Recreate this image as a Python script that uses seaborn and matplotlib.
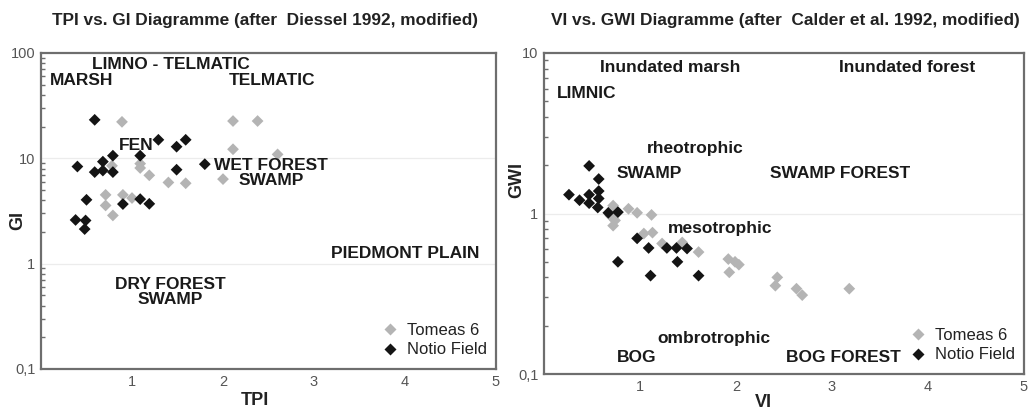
import numpy as np
import pandas as pd
import matplotlib
matplotlib.use("Agg")
import matplotlib.pyplot as plt
from matplotlib.ticker import FixedLocator, LogLocator, NullFormatter
import seaborn as sns

# ---------------- data ----------------
series_names = ["Tomeas 6", "Notio Field"]

# Left diagram: TPI vs GI
tpi_tomeas = [0.89, 2.11, 2.38, 2.11, 0.78, 1.09, 1.09, 1.19, 1.40, 1.59, 2.00, 0.71, 0.90, 0.71, 1.00, 0.79, 2.60]
gi_tomeas = [22.2, 22.6, 22.6, 12.2, 8.5, 8.9, 8.1, 6.9, 5.9, 5.8, 6.35, 4.5, 4.5, 3.57, 4.2, 2.87, 10.9]
tpi_notio = [0.59, 0.40, 0.68, 0.79, 0.59, 0.68, 0.79, 1.09, 1.29, 1.49, 1.59, 1.49, 1.80, 0.50, 0.90, 1.09, 1.19, 0.38, 0.49, 0.48]
gi_notio = [23.2, 8.36, 9.3, 10.6, 7.4, 7.66, 7.4, 10.6, 15.0, 12.9, 15.0, 7.8, 8.8, 4.04, 3.68, 4.1, 3.7, 2.6, 2.57, 2.13]

# Right diagram: VI vs GWI
vi_tomeas = [0.72, 0.88, 0.97, 1.12, 0.69, 0.74, 0.72, 1.04, 1.13, 1.23, 1.44, 1.61, 1.92, 1.99, 2.03, 1.93, 2.43, 2.41, 2.63, 2.69, 3.18]
gwi_tomeas = [1.12, 1.07, 1.01, 0.98, 0.97, 0.905, 0.84, 0.75, 0.76, 0.65, 0.66, 0.575, 0.52, 0.50, 0.48, 0.43, 0.40, 0.355, 0.34, 0.31, 0.34]
vi_notio = [0.26, 0.37, 0.47, 0.47, 0.47, 0.57, 0.57, 0.57, 0.56, 0.67, 0.77, 0.97, 1.09, 1.28, 1.38, 1.49, 0.77, 1.11, 1.39, 1.61]
gwi_notio = [1.31, 1.21, 1.98, 1.31, 1.16, 1.64, 1.38, 1.24, 1.09, 1.01, 1.02, 0.70, 0.61, 0.61, 0.61, 0.605, 0.50, 0.41, 0.50, 0.41]

left_labels = [("LIMNO - TELMATIC", 1.43, 77), ("MARSH", 0.45, 55), ("TELMATIC", 2.54, 55),
               ("FEN", 1.05, 13.1), ("WET FOREST\nSWAMP", 2.53, 7.3),
               ("PIEDMONT PLAIN", 4.0, 1.24), ("DRY FOREST\nSWAMP", 1.42, 0.54)]
right_labels = [("Inundated marsh", 1.31, 8.1), ("Inundated forest", 3.78, 8.1), ("LIMNIC", 0.44, 5.6),
                ("rheotrophic", 1.58, 2.54), ("SWAMP", 1.10, 1.77), ("SWAMP FOREST", 3.08, 1.77),
                ("mesotrophic", 1.83, 0.81), ("ombrotrophic", 1.77, 0.166), ("BOG", 0.97, 0.127),
                ("BOG FOREST", 3.12, 0.127)]

x_ticks = [1, 2, 3, 4, 5]
left_yticks = [0.1, 1, 10, 100]
left_yticklabels = ["0,1", "1", "10", "100"]
right_yticks = [0.1, 1, 10]
right_yticklabels = ["0,1", "1", "10"]

# ---------------- style ----------------
sns.set_style("white")
plt.rcParams["font.family"] = ["Liberation Sans", "DejaVu Sans"]

palette = {"Tomeas 6": "#b4b4b4", "Notio Field": "#141414"}
spine_color = "#6e6e6e"

fig = plt.figure(figsize=(10.35, 4.09), dpi=100)
axL = fig.add_axes([41 / 1035, 1 - 369 / 409, 455 / 1035, 316 / 409])
axR = fig.add_axes([544 / 1035, 1 - 374 / 409, 480 / 1035, 321 / 409])


def make_df(x1, y1, x2, y2, xn, yn):
    d1 = pd.DataFrame({xn: x1, yn: y1, "series": series_names[0]})
    d2 = pd.DataFrame({xn: x2, yn: y2, "series": series_names[1]})
    return pd.concat([d1, d2], ignore_index=True)


dfL = make_df(tpi_tomeas, gi_tomeas, tpi_notio, gi_notio, "TPI", "GI")
dfR = make_df(vi_tomeas, gwi_tomeas, vi_notio, gwi_notio, "VI", "GWI")


def style_axis(ax, df, xn, yn, ylim, yticks, yticklabels, labels, grid_vals):
    sns.scatterplot(data=df, x=xn, y=yn, hue="series", hue_order=series_names,
                    palette=palette, marker="D", s=36, edgecolor="none", ax=ax, zorder=3)
    ax.set_yscale("log")
    ax.set_xlim(0, 5)
    ax.set_ylim(*ylim)
    for g in grid_vals:
        ax.axhline(g, color="#ececec", lw=0.9, zorder=0)
    ax.xaxis.set_major_locator(FixedLocator(x_ticks))
    ax.set_xticklabels([str(t) for t in x_ticks])
    ax.yaxis.set_major_locator(FixedLocator(yticks))
    ax.set_yticklabels(yticklabels)
    ax.yaxis.set_minor_locator(LogLocator(base=10, subs=np.arange(2, 10)))
    ax.yaxis.set_minor_formatter(NullFormatter())
    ax.tick_params(axis="both", which="major", direction="in", length=5, width=1.2,
                   color=spine_color, labelsize=10.5, labelcolor="#555555", pad=4)
    ax.tick_params(axis="y", which="minor", direction="in", length=3, width=1.0, color=spine_color,
                   left=True)
    for sp in ax.spines.values():
        sp.set_color(spine_color)
        sp.set_linewidth(1.6)
    for txt, x, y in labels:
        ax.text(x, y, txt, ha="center", va="center", fontsize=12.5, fontweight="bold",
                color="#1a1a1a", linespacing=1.0, zorder=4)
    h, l = ax.get_legend_handles_labels()
    ax.legend(h, l, loc="lower right", bbox_to_anchor=(1.005, 0.0), frameon=False, fontsize=12,
              handletextpad=0.0, labelspacing=0.25, borderaxespad=0.3, markerscale=1.0,
              labelcolor="#222222")


style_axis(axL, dfL, "TPI", "GI", (0.1, 100), left_yticks, left_yticklabels, left_labels, [1, 10])
style_axis(axR, dfR, "VI", "GWI", (0.1, 10), right_yticks, right_yticklabels, right_labels, [1])

axL.set_xlabel("TPI", fontsize=13, fontweight="bold", color="#222222")
axL.set_ylabel("GI", fontsize=13, fontweight="bold", color="#222222")
axL.xaxis.set_label_coords(0.47, -0.072)
axL.yaxis.set_label_coords(-0.033, 0.47)
axR.set_xlabel("VI", fontsize=13, fontweight="bold", color="#222222")
axR.set_ylabel("GWI", fontsize=13, fontweight="bold", color="#222222")
axR.xaxis.set_label_coords(0.456, -0.062)
axR.yaxis.set_label_coords(-0.04, 0.604)

fig.text(265 / 1035, 1 - 20 / 409, "TPI vs. GI Diagramme (after  Diessel 1992, modified)",
         ha="center", va="center", fontsize=12.4, fontweight="bold", color="#222222")
fig.text(785 / 1035, 1 - 20 / 409, "VI vs. GWI Diagramme (after  Calder et al. 1992, modified)",
         ha="center", va="center", fontsize=12.4, fontweight="bold", color="#222222")

fig.savefig("out.png", dpi=100)
